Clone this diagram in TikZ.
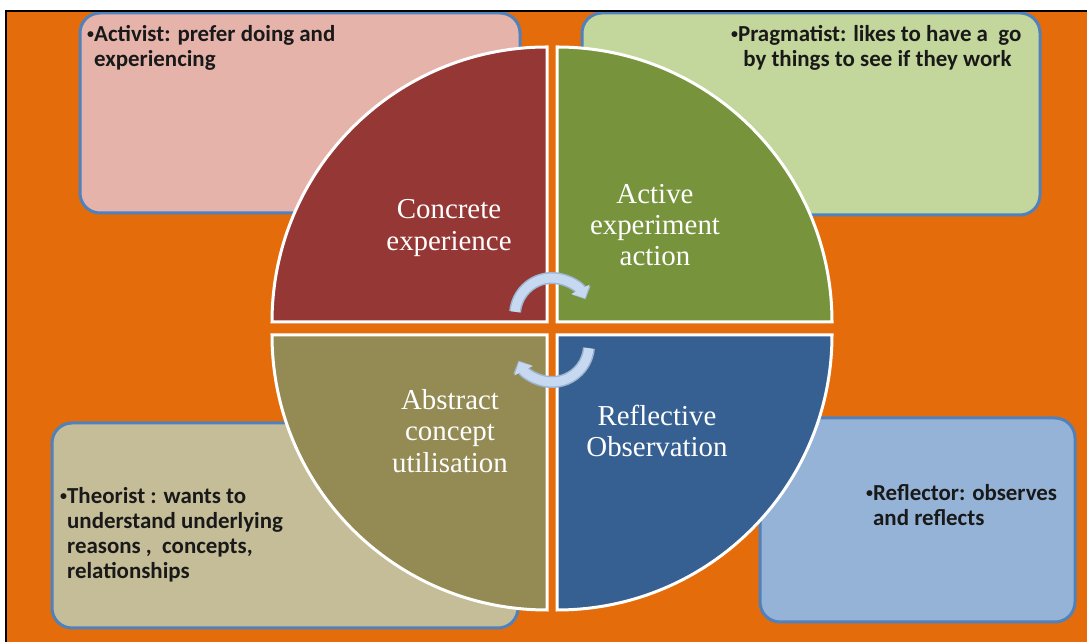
\documentclass[tikz,border=0pt]{standalone}
\usepackage{fontspec}
\setmainfont{Liberation Serif}
\newfontfamily\boxfont{Carlito}
\usepackage{tikz}
\usetikzlibrary{arrows.meta}
\usetikzlibrary{positioning}

\definecolor{bgorange}{HTML}{E46C0A}
\definecolor{quadred}{HTML}{953735}
\definecolor{quadgreen}{HTML}{77933C}
\definecolor{quadolive}{HTML}{948A54}
\definecolor{quadblue}{HTML}{376092}
\definecolor{boxpink}{HTML}{E6B3AB}
\definecolor{boxgreen}{HTML}{C3D69B}
\definecolor{boxtan}{HTML}{C4BD97}
\definecolor{boxblue}{HTML}{95B3D7}
\definecolor{boxedge}{HTML}{4F81BD}
\definecolor{arrowfill}{HTML}{C6D9F1}
\definecolor{arrowedge}{HTML}{9DB5D2}
\newcommand{\bul}{\raisebox{2.5bp}{\fontsize{14}{14}\selectfont•}}

\tikzset{
  rolebox/.style={draw=boxedge, line width=3bp, rounded corners=20bp},
  roletext/.style={anchor=north west, inner sep=0pt, align=left, text=black!90,
    font=\boxfont\bfseries\fontsize{23}{25.3}\selectfont},
  quad/.style={draw=white, line width=3bp},
  quadtext/.style={align=center, text=white, inner sep=0pt,
    font=\fontsize{29}{31.5}\selectfont},
  cyclearrow/.style={line width=#1, -{Triangle[length=10bp, width=20bp]}},
}

\begin{document}
\begin{tikzpicture}[x=1bp, y=1bp]
    \useasboundingbox (0,0) rectangle (1087,642);
    \fill[white] (0,0) rectangle (1087,642);
    \fill[bgorange] (6,0) rectangle (1087,631);

    % Learning style boxes
    \draw[rolebox, fill=boxpink] (80,429) rectangle (520,629);
    \draw[rolebox, fill=boxgreen] (582,427) rectangle (1040,629);
    \draw[rolebox, fill=boxtan] (52,14) rectangle (518,219);
    \draw[rolebox, fill=boxblue] (760,20) rectangle (1075,224);

    % The four quadrants
    \draw[quad, fill=quadred] (547,320) -- ++(-275,0) arc[start angle=180, end angle=90, radius=275] -- cycle;
    \draw[quad, fill=quadgreen] (557,320) -- ++(0,275) arc[start angle=90, end angle=0, radius=275] -- cycle;
    \draw[quad, fill=quadolive] (547,307) -- ++(0,-275) arc[start angle=270, end angle=180, radius=275] -- cycle;
    \draw[quad, fill=quadblue] (557,307) -- ++(275,0) arc[start angle=0, end angle=-90, radius=275] -- cycle;

    % Cycle arrows
    \coordinate (top) at (552,327);
    \coordinate (bot) at (552,297);
    \draw[cyclearrow=12bp, arrowedge] ([shift={(175:37)}]top) arc[start angle=175, end angle=25, radius=37];
    \draw[cyclearrow=9bp, arrowfill] ([shift={(175:37)}]top) arc[start angle=175, end angle=27, radius=37];
    \draw[cyclearrow=12bp, arrowedge] ([shift={(-5:37)}]bot) arc[start angle=-5, end angle=-155, radius=37];
    \draw[cyclearrow=9bp, arrowfill] ([shift={(-5:37)}]bot) arc[start angle=-5, end angle=-153, radius=37];

    % Labels
    \node[quadtext] (ce) at (449,414) {Concrete\\experience};
    \node[quadtext] (aea) at (655,417) {Active\\experiment\\action};
    \node[quadtext] (acu) at (450,211) {Abstract\\concept\\utilisation};
    \node[quadtext] (ro) at (657,211) {Reflective\\Observation};

    \node[roletext] (activist) at (87,617) {\bul Activist: prefer doing and\\\hphantom{\bul}experiencing};
    \node[roletext] (pragmatist) at (731,617) {\bul Pragmatist: likes to have a~~go\\\hphantom{\bul}~by things to see if they work};
    \node[roletext] (theorist) at (60,155) {\bul Theorist : wants to\\\hphantom{\bul}understand underlying\\\hphantom{\bul}reasons ,~~concepts,\\\hphantom{\bul}relationships};
    \node[roletext] (reflector) at (866,158) {\bul Reflector: observes\\\hphantom{\bul}and reflects};

    % Frame
    \draw[black, line width=2.5bp] (6,0) -- (6,631) -- (1087,631);
  \end{tikzpicture}
\end{document}
